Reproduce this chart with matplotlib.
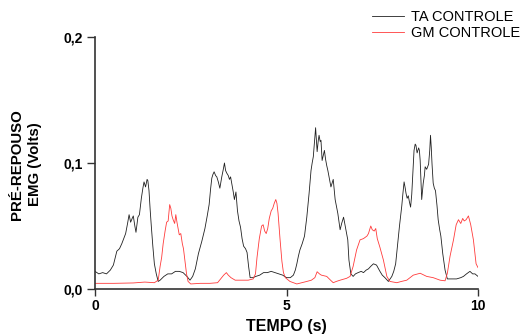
import matplotlib
matplotlib.use("Agg")
import matplotlib.pyplot as plt
from matplotlib.ticker import FixedLocator

plt.rcParams['font.family'] = ['Liberation Sans', 'DejaVu Sans']

ta_t = [0.0, 0.1, 0.2, 0.3, 0.4, 0.48, 0.52, 0.57, 0.64, 0.70, 0.75, 0.80, 0.85, 0.89, 0.93, 0.97,
        1.00, 1.04, 1.07, 1.12, 1.16, 1.21, 1.25, 1.28, 1.32, 1.36, 1.38, 1.41, 1.44, 1.47, 1.51, 1.55,
        1.60, 1.65, 1.70, 1.80, 1.90, 2.00, 2.10, 2.20, 2.30, 2.40, 2.48, 2.55, 2.62, 2.70, 2.79, 2.87,
        2.93, 2.98, 3.02, 3.05, 3.08, 3.11, 3.15, 3.18, 3.22, 3.26, 3.31, 3.35, 3.38, 3.41, 3.44, 3.48,
        3.51, 3.54, 3.57, 3.61, 3.64, 3.68, 3.72, 3.76, 3.80, 3.84, 3.88, 3.93, 3.97, 4.01, 4.05, 4.12,
        4.20, 4.30, 4.40, 4.50, 4.60, 4.70, 4.80, 4.90, 5.00, 5.10, 5.18, 5.23, 5.27, 5.31, 5.35, 5.41,
        5.47, 5.53, 5.59, 5.64, 5.67, 5.70, 5.73, 5.76, 5.78, 5.80, 5.83, 5.85, 5.88, 5.90, 5.93, 5.96,
        5.99, 6.02, 6.05, 6.08, 6.11, 6.16, 6.19, 6.22, 6.27, 6.34, 6.40, 6.44, 6.49, 6.55, 6.60, 6.63,
        6.68, 6.74, 6.80, 6.87, 6.95, 7.01, 7.08, 7.14, 7.20, 7.27, 7.35, 7.44, 7.50, 7.57, 7.66, 7.75,
        7.80, 7.85, 7.90, 7.95, 8.01, 8.04, 8.07, 8.10, 8.12, 8.15, 8.18, 8.21, 8.24, 8.27, 8.29, 8.31,
        8.33, 8.36, 8.38, 8.41, 8.45, 8.47, 8.49, 8.53, 8.57, 8.60, 8.62, 8.66, 8.71, 8.74, 8.76, 8.78,
        8.80, 8.83, 8.86, 8.89, 8.93, 8.96, 9.00, 9.03, 9.08, 9.14, 9.20, 9.30, 9.44, 9.55, 9.62, 9.70,
        9.79, 9.86, 9.92, 10.0]
ta_v = [0.014, 0.012, 0.013, 0.012, 0.015, 0.019, 0.024, 0.030, 0.032, 0.036, 0.040, 0.044, 0.052, 0.059, 0.053, 0.056,
        0.058, 0.050, 0.045, 0.057, 0.059, 0.072, 0.080, 0.085, 0.081, 0.087, 0.086, 0.078, 0.063, 0.050, 0.034, 0.020,
        0.012, 0.006, 0.007, 0.010, 0.012, 0.012, 0.014, 0.014, 0.013, 0.010, 0.007, 0.010, 0.016, 0.028, 0.038, 0.048,
        0.058, 0.067, 0.080, 0.088, 0.091, 0.093, 0.090, 0.089, 0.085, 0.080, 0.089, 0.095, 0.100, 0.094, 0.092, 0.090,
        0.087, 0.089, 0.084, 0.077, 0.071, 0.077, 0.062, 0.054, 0.049, 0.040, 0.034, 0.032, 0.029, 0.018, 0.009, 0.009,
        0.010, 0.011, 0.013, 0.013, 0.014, 0.013, 0.012, 0.011, 0.009, 0.009, 0.011, 0.015, 0.020, 0.026, 0.031, 0.036,
        0.042, 0.057, 0.076, 0.094, 0.100, 0.105, 0.116, 0.128, 0.118, 0.109, 0.118, 0.122, 0.117, 0.118, 0.102, 0.106,
        0.110, 0.103, 0.098, 0.094, 0.089, 0.081, 0.084, 0.087, 0.071, 0.060, 0.047, 0.052, 0.057, 0.047, 0.039, 0.023,
        0.012, 0.010, 0.012, 0.013, 0.014, 0.013, 0.015, 0.016, 0.018, 0.020, 0.019, 0.014, 0.011, 0.009, 0.006, 0.010,
        0.014, 0.020, 0.035, 0.050, 0.066, 0.076, 0.085, 0.080, 0.076, 0.072, 0.074, 0.069, 0.065, 0.075, 0.087, 0.100,
        0.110, 0.115, 0.114, 0.108, 0.112, 0.110, 0.102, 0.071, 0.084, 0.090, 0.097, 0.095, 0.099, 0.110, 0.122, 0.112,
        0.099, 0.084, 0.080, 0.078, 0.066, 0.055, 0.047, 0.042, 0.028, 0.015, 0.008, 0.008, 0.008, 0.009, 0.010, 0.012,
        0.014, 0.012, 0.012, 0.010]

gm_t = [0.0, 0.5, 1.0, 1.3, 1.55, 1.65, 1.70, 1.74, 1.78, 1.83, 1.87, 1.91, 1.95, 1.98, 2.01, 2.04,
        2.08, 2.11, 2.14, 2.17, 2.20, 2.24, 2.28, 2.31, 2.35, 2.39, 2.43, 2.50, 2.75, 3.00, 3.20, 3.28,
        3.36, 3.43, 3.48, 3.55, 3.66, 3.80, 4.00, 4.13, 4.19, 4.23, 4.29, 4.35, 4.39, 4.43, 4.47, 4.51,
        4.55, 4.60, 4.64, 4.68, 4.72, 4.75, 4.78, 4.83, 4.88, 4.92, 4.97, 5.09, 5.27, 5.40, 5.53, 5.65,
        5.74, 5.80, 5.86, 5.91, 6.05, 6.15, 6.22, 6.30, 6.40, 6.57, 6.66, 6.74, 6.83, 6.92, 7.01, 7.10,
        7.14, 7.20, 7.24, 7.29, 7.33, 7.37, 7.44, 7.53, 7.62, 7.70, 7.88, 8.00, 8.14, 8.31, 8.49, 8.66,
        8.83, 9.01, 9.14, 9.20, 9.27, 9.36, 9.43, 9.49, 9.55, 9.60, 9.64, 9.69, 9.75, 9.81, 9.88, 9.95, 10.0]
gm_v = [0.0045, 0.0045, 0.0048, 0.0055, 0.005, 0.007, 0.018, 0.025, 0.036, 0.046, 0.053, 0.054, 0.067, 0.064, 0.058, 0.055,
        0.052, 0.059, 0.053, 0.048, 0.043, 0.044, 0.036, 0.032, 0.022, 0.012, 0.006, 0.004, 0.0045, 0.0045, 0.005, 0.008,
        0.011, 0.013, 0.011, 0.009, 0.007, 0.007, 0.007, 0.008, 0.012, 0.025, 0.040, 0.050, 0.051, 0.046, 0.044, 0.048,
        0.056, 0.062, 0.064, 0.068, 0.071, 0.068, 0.060, 0.040, 0.022, 0.013, 0.009, 0.006, 0.004, 0.005, 0.006, 0.007,
        0.009, 0.0137, 0.012, 0.011, 0.010, 0.007, 0.005, 0.006, 0.007, 0.0085, 0.010, 0.018, 0.031, 0.039, 0.040, 0.042,
        0.044, 0.050, 0.047, 0.046, 0.048, 0.040, 0.033, 0.023, 0.010, 0.006, 0.005, 0.006, 0.007, 0.011, 0.0125, 0.010,
        0.009, 0.007, 0.0065, 0.0125, 0.026, 0.039, 0.051, 0.055, 0.052, 0.056, 0.054, 0.055, 0.058, 0.051, 0.039, 0.020, 0.017]

series_labels = ["TA CONTROLE", "GM CONTROLE"]
x_ticks = [0, 5, 10]
x_ticklabels = ["0", "5", "10"]
y_ticks = [0.0, 0.1, 0.2]
y_ticklabels = ["0,0", "0,1", "0,2"]

W, H = 526, 336
fig = plt.figure(figsize=(W/100, H/100), dpi=100)
ax = fig.add_axes([95/W, 1-289/H, (478-95)/W, (289-37)/H])

l1, = ax.plot(ta_t, ta_v, color="#202020", lw=0.6, label=series_labels[0])
l2, = ax.plot(gm_t, gm_v, color="#ff3a3a", lw=0.6, label=series_labels[1])

ax.set_xlim(0, 10)
ax.set_ylim(0, 0.2)
ax.xaxis.set_major_locator(FixedLocator(x_ticks))
ax.yaxis.set_major_locator(FixedLocator(y_ticks))
ax.set_xticklabels(x_ticklabels, fontweight="bold", fontsize=10)
ax.set_yticklabels(y_ticklabels, fontweight="bold", fontsize=10)
ax.tick_params(axis="y", direction="out", length=5.5, width=1, color="#333333", pad=3.5)
ax.tick_params(axis="x", direction="out", length=5, width=1, color="#333333", pad=2)
for s in ["top", "right"]:
    ax.spines[s].set_visible(False)
for s in ["left", "bottom"]:
    ax.spines[s].set_linewidth(1.2)
    ax.spines[s].set_color("#333333")

fig.text(286/W, 1-327/H, "TEMPO (s)", fontweight="bold", fontsize=11.5,
         ha="center", va="center")
fig.text(26/W, 1-164.5/H, "PRÉ-REPOUSO\nEMG (Volts)", fontweight="bold", fontsize=10.8,
         ha="center", va="center", rotation=90, multialignment="center", linespacing=1.4)

leg = fig.legend(handles=[l1, l2], loc="upper left", bbox_to_anchor=(372/W, 1-10/H),
                 frameon=False, fontsize=10.5, handlelength=2.2, handletextpad=0.45,
                 labelspacing=0.14, borderpad=0, borderaxespad=0)

fig.savefig("out.png", dpi=100)
